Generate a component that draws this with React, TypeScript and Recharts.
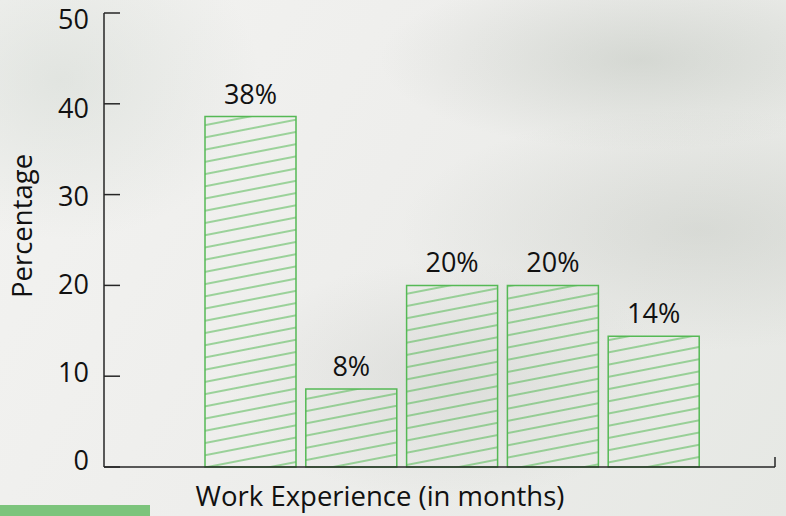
import React from "react";
import { BarChart, Bar, XAxis, YAxis, LabelList } from "recharts";

// Work experience bins (the reference shows no category tick labels)
const categories = ["0-6", "6-12", "12-18", "18-24", "24+"];
const percentages = [38.6, 8.6, 20, 20, 14.4];
const barLabels = ["38%", "8%", "20%", "20%", "14%"];
const yTicks = [0, 10, 20, 30, 40, 50];

const chartData = categories.map((name, i) => ({
  name,
  value: percentages[i],
  label: barLabels[i],
}));

const FONT = "'Open Sans', 'DejaVu Sans', sans-serif";
const GREEN = "#55b955";
const AXIS = "#262626";

const YTick = (props: any) => {
  const { x, y, payload } = props;
  // the original's tick labels sit slightly tighter than the tick marks
  const shift = -6 + (13 * payload.value) / 50;
  return (
    <g>
      <line x1={x + 15} x2={x + 31} y1={y} y2={y} stroke={AXIS} strokeWidth={1.5} />
      <text
        x={x}
        y={y + shift}
        dy="0.35em"
        textAnchor="end"
        fill="#111"
        fontSize={27}
        fontFamily={FONT}
      >
        {payload.value}
      </text>
    </g>
  );
};

const App: React.FC = () => {
  return (
    <div
      style={{
        position: "absolute",
        left: 0,
        top: 0,
        width: 786,
        height: 516,
        overflow: "hidden",
        background:
          "radial-gradient(ellipse 260px 90px at 640px 60px, rgba(170,178,168,0.35), transparent), " +
          "radial-gradient(ellipse 300px 120px at 700px 230px, rgba(175,180,172,0.3), transparent), " +
          "radial-gradient(ellipse 200px 160px at 60px 80px, rgba(205,212,205,0.45), transparent), " +
          "radial-gradient(ellipse 220px 120px at 450px 380px, rgba(185,188,183,0.3), transparent), " +
          "linear-gradient(120deg, #f3f3f1 0%, #eeeeec 45%, #e6e8e4 100%)",
      }}
    >
      <BarChart
        width={786}
        height={516}
        data={chartData}
        margin={{ top: 13, right: 11, left: 0, bottom: 0 }}
        style={{ fontFamily: FONT }}
      >
        <defs>
          <pattern
            id="hatch"
            patternUnits="userSpaceOnUse"
            width={12}
            height={12}
            patternTransform="rotate(-11)"
          >
            <line x1={0} x2={12} y1={6} y2={6} stroke={GREEN} strokeWidth={1.1} />
          </pattern>
        </defs>
        <XAxis
          dataKey="name"
          height={49}
          tick={false}
          tickLine={false}
          axisLine={{ stroke: AXIS, strokeWidth: 1.5 }}
          padding={{ left: 96, right: 71 }}
          label={{
            content: () => (
              <text
                x={380}
                y={506}
                textAnchor="middle"
                fill="#111"
                fontSize={27.5}
                fontFamily={FONT}
              >
                Work Experience (in months)
              </text>
            ),
          }}
        />
        <YAxis
          width={104}
          domain={[0, 50]}
          ticks={yTicks}
          interval={0}
          tickSize={0}
          tickMargin={15}
          tickLine={false}
          axisLine={{ stroke: AXIS, strokeWidth: 1.5 }}
          tick={<YTick />}
          label={{
            content: () => (
              <text
                x={0}
                y={0}
                transform="translate(32 226) rotate(-90)"
                textAnchor="middle"
                fill="#111"
                fontSize={27.5}
                fontFamily={FONT}
              >
                Percentage
              </text>
            ),
          }}
        />
        <Bar
          dataKey="value"
          barSize={91}
          fill="url(#hatch)"
          stroke={GREEN}
          strokeWidth={1.5}
          isAnimationActive={false}
        >
          <LabelList
            dataKey="label"
            position="top"
            offset={13}
            fill="#111"
            fontSize={27}
            fontFamily={FONT}
          />
        </Bar>
      </BarChart>
      {/* end mark on the right of the category axis, and the green strip bottom-left */}
      <svg
        width={786}
        height={516}
        style={{ position: "absolute", left: 0, top: 0, pointerEvents: "none" }}
      >
        <line x1={775} x2={775} y1={457} y2={467} stroke={AXIS} strokeWidth={1.5} />
        <rect x={0} y={505} width={150} height={11} fill="#7cc47c" />
      </svg>
    </div>
  );
};

export default App;
